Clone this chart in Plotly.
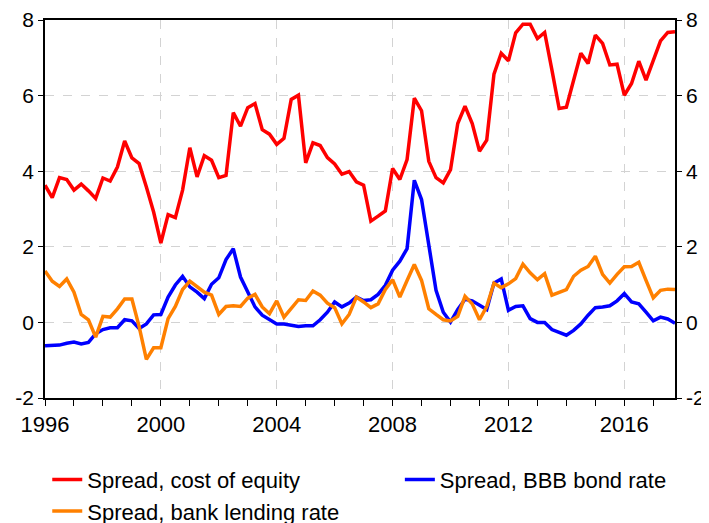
import plotly.graph_objects as go

# Quarterly dates, 1996Q1 - 2017Q4
quarters = [1996 + i / 4 for i in range(88)]

cost_of_equity = [
    3.63, 3.30, 3.83, 3.78, 3.50, 3.66, 3.48, 3.28, 3.82, 3.74,
    4.11, 4.80, 4.35, 4.20, 3.58, 2.92, 2.10, 2.85, 2.77, 3.50,
    4.62, 3.85, 4.41, 4.29, 3.83, 3.89, 5.55, 5.19, 5.68, 5.79,
    5.10, 4.98, 4.71, 4.87, 5.90, 6.01, 4.22, 4.75, 4.68, 4.36,
    4.19, 3.92, 3.99, 3.72, 3.63, 2.68, 2.81, 2.95, 4.07, 3.78,
    4.31, 5.93, 5.60, 4.26, 3.83, 3.69, 4.04, 5.26, 5.72, 5.26,
    4.53, 4.82, 6.57, 7.12, 6.92, 7.66, 7.89, 7.89, 7.51, 7.67,
    6.68, 5.66, 5.69, 6.37, 7.12, 6.85, 7.60, 7.38, 6.81, 6.83,
    6.01, 6.32, 6.91, 6.41, 6.90, 7.45, 7.67, 7.69,
]

bbb_bond_rate = [
    -0.62, -0.62, -0.60, -0.55, -0.52, -0.57, -0.53, -0.30, -0.19, -0.14,
    -0.14, 0.07, 0.04, -0.16, -0.04, 0.20, 0.21, 0.67, 0.99, 1.22,
    0.94, 0.80, 0.63, 1.01, 1.18, 1.66, 1.95, 1.20, 0.83, 0.41,
    0.19, 0.07, -0.04, -0.04, -0.08, -0.11, -0.09, -0.09, 0.07, 0.27,
    0.54, 0.41, 0.51, 0.67, 0.58, 0.60, 0.74, 0.98, 1.38, 1.62,
    1.95, 3.76, 3.25, 2.00, 0.85, 0.27, 0.01, 0.34, 0.61, 0.57,
    0.45, 0.34, 1.04, 1.15, 0.32, 0.42, 0.44, 0.10, 0.00, 0.00,
    -0.19, -0.26, -0.34, -0.21, -0.04, 0.19, 0.39, 0.41, 0.44, 0.57,
    0.76, 0.54, 0.49, 0.27, 0.04, 0.14, 0.09, -0.02,
]

bank_lending_rate = [
    1.36, 1.09, 0.95, 1.15, 0.80, 0.21, 0.07, -0.39, 0.16, 0.14,
    0.36, 0.62, 0.62, -0.11, -0.98, -0.67, -0.67, 0.10, 0.42, 0.87,
    1.09, 0.95, 0.80, 0.72, 0.21, 0.42, 0.44, 0.42, 0.64, 0.74,
    0.41, 0.23, 0.57, 0.14, 0.36, 0.60, 0.58, 0.83, 0.72, 0.51,
    0.39, -0.04, 0.21, 0.67, 0.54, 0.39, 0.49, 0.87, 1.13, 0.67,
    1.11, 1.53, 1.11, 0.36, 0.21, 0.07, 0.04, 0.16, 0.69, 0.49,
    0.07, 0.42, 1.04, 0.92, 1.02, 1.16, 1.54, 1.31, 1.13, 1.29,
    0.72, 0.80, 0.87, 1.22, 1.38, 1.48, 1.75, 1.27, 1.04, 1.27,
    1.47, 1.48, 1.59, 1.11, 0.65, 0.85, 0.88, 0.87,
]

y_ticks = [-2, 0, 2, 4, 6, 8]
y_tick_labels = ["-2", "0", "2", "4", "6", "8"]
x_ticks = [1996, 2000, 2004, 2008, 2012, 2016]

FONT = "Liberation Sans, Arial, sans-serif"

fig = go.Figure()

fig.add_trace(go.Scatter(
    x=quarters, y=cost_of_equity, mode="lines",
    name="Spread, cost of equity",
    line=dict(color="#FF0000", width=3.5),
    legend="legend",
))
fig.add_trace(go.Scatter(
    x=quarters, y=bbb_bond_rate, mode="lines",
    name="Spread, BBB bond rate",
    line=dict(color="#0000FF", width=3.5),
    legend="legend2",
))
fig.add_trace(go.Scatter(
    x=quarters, y=bank_lending_rate, mode="lines",
    name="Spread, bank lending rate",
    line=dict(color="#FF8000", width=3.5),
    legend="legend",
))
# invisible trace so that the right-hand axis is drawn
fig.add_trace(go.Scatter(
    x=[quarters[0]], y=[None], yaxis="y2", mode="lines",
    showlegend=False, hoverinfo="skip",
))

yaxis_common = dict(
    range=[-2, 8],
    tickvals=y_ticks,
    ticktext=y_tick_labels,
    ticks="outside",
    ticklen=5,
    tickcolor="black",
    tickfont=dict(family=FONT, size=21, color="black"),
    showline=True,
    linecolor="black",
    linewidth=1.5,
    zeroline=False,
    automargin=False,
)

legend_common = dict(
    orientation="h",
    xref="container",
    yref="container",
    xanchor="left",
    yanchor="top",
    y=0.125,
    font=dict(family=FONT, size=22, color="black"),
    tracegroupgap=0,
    bgcolor="rgba(0,0,0,0)",
)

# the page puts the figure 8 px in from the top-left corner
fig.update_layout(
    width=701,
    height=515,
    margin=dict(l=37, r=34, t=12, b=125),
    plot_bgcolor="white",
    paper_bgcolor="white",
    xaxis=dict(
        range=[1996, 2017.75],
        tickvals=x_ticks,
        ticks="outside",
        ticklen=6,
        tickcolor="black",
        tickfont=dict(family=FONT, size=22, color="black"),
        showline=True,
        linecolor="black",
        linewidth=1.5,
        mirror=True,
        showgrid=True,
        gridcolor="#D3D3D3",
        griddash="dash",
        gridwidth=1,
        zeroline=False,
        automargin=False,
        minor=dict(
            tickvals=list(range(1996, 2018)),
            ticks="outside",
            ticklen=6,
            tickcolor="black",
            showgrid=False,
        ),
    ),
    yaxis=dict(
        **yaxis_common,
        mirror=False,
        showgrid=True,
        gridcolor="#D3D3D3",
        griddash="dash",
        gridwidth=1,
    ),
    yaxis2=dict(
        **yaxis_common,
        overlaying="y",
        side="right",
        showgrid=False,
    ),
    # one entry per row in the first legend, the BBB entry beside it
    legend=dict(**legend_common, x=0.056, entrywidth=500,
                entrywidthmode="pixels"),
    legend2=dict(**legend_common, x=0.559),
    showlegend=True,
)

fig.write_html("out.html")
